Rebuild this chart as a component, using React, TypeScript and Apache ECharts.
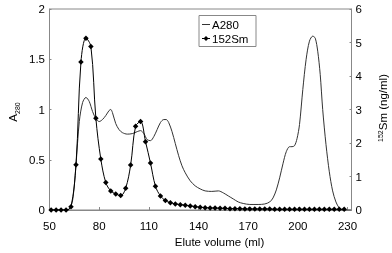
import React, { useEffect, useRef } from "react";
import * as echarts from "echarts";

// A280 trace (left axis)
const a280X = [50, 55, 60, 62, 64, 66, 68, 70, 72, 74, 76, 78, 80, 82, 84, 86, 87, 88, 90, 92, 94, 97, 100, 103, 105, 107, 109, 111, 113, 115, 117, 119, 120.5, 122, 124, 126, 128, 130, 132, 135, 138, 141, 144, 148, 152, 155, 158, 161, 164, 167, 171, 176, 180, 183, 185, 187, 189, 191, 193, 195, 196.5, 198, 199.5, 201, 203, 205, 207, 209, 210.5, 212, 213.5, 215, 217, 219, 221, 223, 225, 227, 232];
const a280Y = [0, 0, 0, 0.01, 0.1, 0.45, 0.88, 1.07, 1.12, 1.08, 0.98, 0.91, 0.88, 0.9, 0.94, 0.99, 1.0, 0.97, 0.86, 0.8, 0.77, 0.755, 0.76, 0.78, 0.79, 0.76, 0.7, 0.69, 0.73, 0.8, 0.87, 0.9, 0.9, 0.87, 0.78, 0.66, 0.54, 0.44, 0.37, 0.29, 0.24, 0.21, 0.19, 0.185, 0.19, 0.17, 0.14, 0.11, 0.08, 0.065, 0.055, 0.055, 0.06, 0.08, 0.12, 0.2, 0.32, 0.46, 0.58, 0.63, 0.63, 0.64, 0.71, 0.85, 1.2, 1.5, 1.68, 1.73, 1.71, 1.58, 1.35, 1.0, 0.65, 0.38, 0.19, 0.08, 0.02, 0, 0];

// 152Sm fractions (right axis, ng/ml)
const smX = [51, 54, 57, 60, 63, 66, 69, 72, 75, 78, 81, 84, 87, 90, 93, 96, 99, 102, 105, 108, 111, 114, 117, 120, 123, 126, 129, 132, 135, 138, 141, 144, 147, 150, 153, 156, 159, 162, 165, 168, 171, 174, 177, 180, 183, 186, 189, 192, 195, 198, 201, 204, 207, 210, 213, 216, 219, 222, 225, 228];
const smY = [0, 0, 0, 0, 0.1, 1.35, 4.42, 5.13, 4.88, 2.74, 1.52, 0.82, 0.57, 0.48, 0.43, 0.65, 1.34, 2.5, 2.64, 2.04, 1.4, 0.71, 0.42, 0.28, 0.22, 0.18, 0.16, 0.14, 0.12, 0.1, 0.08, 0.07, 0.06, 0.06, 0.05, 0.05, 0.04, 0.04, 0.04, 0.03, 0.03, 0.03, 0.03, 0.03, 0.03, 0.02, 0.02, 0.02, 0.02, 0.02, 0.02, 0.02, 0.02, 0.02, 0.02, 0.02, 0.02, 0.02, 0.02, 0.02];

const xTicks = [50, 80, 110, 140, 170, 200, 230];
const seriesNames = ["A280", "152Sm"];

const FONT = "'Liberation Sans', Arial, sans-serif";

export default function App() {
  const ref = useRef<HTMLDivElement>(null);
  useEffect(() => {
    document.body.style.margin = "0";
    const chart = echarts.init(ref.current!, null, { renderer: "svg" });
    const axisLine = { show: true, lineStyle: { color: "#888", width: 1 } };
    chart.setOption({
      animation: false,
      textStyle: { fontFamily: FONT },
      grid: {
        left: 49.5,
        top: 9,
        right: 40.5,
        bottom: 43,
        show: true,
        borderColor: "#888",
        borderWidth: 1,
        backgroundColor: "transparent",
      },
      xAxis: {
        type: "value",
        min: 50,
        max: 232.4,
        interval: 30,
        axisLine,
        axisTick: { show: true, inside: true, length: 3, lineStyle: { color: "#888" } },
        splitLine: { show: false },
        axisLabel: {
          fontSize: 11.5,
          color: "#000",
          margin: 10,
          showMaxLabel: false,
          formatter: (v: number) => (xTicks.includes(v) ? String(v) : ""),
        },
      },
      yAxis: [
        {
          type: "value",
          min: 0,
          max: 2,
          interval: 0.5,
          axisLine,
          axisTick: { show: true, inside: true, length: 2, lineStyle: { color: "#888" } },
          splitLine: { show: false },
          axisLabel: { fontSize: 11.5, color: "#000", margin: 4.5 },
        },
        {
          type: "value",
          min: 0,
          max: 6,
          interval: 1,
          position: "right",
          axisLine,
          axisTick: { show: true, inside: true, length: 2, lineStyle: { color: "#888" } },
          splitLine: { show: false },
          axisLabel: { fontSize: 11.5, color: "#000", margin: 4 },
        },
      ],
      graphic: [
        {
          type: "text",
          x: 219.5,
          y: 241.5,
          style: {
            text: "Elute volume (ml)",
            fontSize: 11.5,
            fontFamily: FONT,
            fill: "#000",
            align: "center",
            verticalAlign: "middle",
          },
        },
        {
          type: "text",
          x: 13,
          y: 112,
          rotation: Math.PI / 2,
          style: {
            text: "{a|A}{s|280}",
            align: "center",
            verticalAlign: "middle",
            fill: "#000",
            fontFamily: FONT,
            rich: {
              a: { fontSize: 11.5, fontFamily: FONT, fill: "#000", verticalAlign: "bottom" },
              s: { fontSize: 7, fontFamily: FONT, fill: "#000", verticalAlign: "bottom", padding: [0, 0, -2, 0] },
            },
          },
        },
        {
          type: "text",
          x: 383,
          y: 108,
          rotation: Math.PI / 2,
          style: {
            text: "{s|152}{a|Sm (ng/ml)}",
            align: "center",
            verticalAlign: "middle",
            fill: "#000",
            fontFamily: FONT,
            rich: {
              a: { fontSize: 11.5, fontFamily: FONT, fill: "#000", verticalAlign: "bottom" },
              s: { fontSize: 7, fontFamily: FONT, fill: "#000", verticalAlign: "top" },
            },
          },
        },
        // legend
        {
          type: "group",
          left: 198.5,
          top: 15,
          z: 100,
          children: [
            {
              type: "rect",
              shape: { x: 0, y: 0, width: 57, height: 31 },
              style: { fill: "#fff", stroke: "#888", lineWidth: 1 },
            },
            {
              type: "line",
              shape: { x1: 3, y1: 9, x2: 11, y2: 9 },
              style: { stroke: "#333", lineWidth: 1 },
            },
            {
              type: "text",
              x: 13,
              y: 9,
              style: { text: seriesNames[0], fontSize: 11.5, fontFamily: FONT, fill: "#000", verticalAlign: "middle" },
            },
            {
              type: "line",
              shape: { x1: 3, y1: 23, x2: 11, y2: 23 },
              style: { stroke: "#000", lineWidth: 1 },
            },
            {
              type: "polygon",
              shape: { points: [[7, 20.5], [9.5, 23], [7, 25.5], [4.5, 23]] },
              style: { fill: "#000" },
            },
            {
              type: "text",
              x: 13,
              y: 23,
              style: { text: seriesNames[1], fontSize: 11.5, fontFamily: FONT, fill: "#000", verticalAlign: "middle" },
            },
          ],
        },
      ],
      series: [
        {
          name: seriesNames[0],
          type: "line",
          yAxisIndex: 0,
          smooth: 0.3,
          showSymbol: false,
          symbol: "none",
          lineStyle: { color: "#333", width: 1 },
          itemStyle: { color: "#333" },
          data: a280X.map((x, i) => [x, a280Y[i]]),
          z: 2,
        },
        {
          name: seriesNames[1],
          type: "line",
          yAxisIndex: 1,
          smooth: 0.35,
          symbol: "diamond",
          symbolSize: 5.5,
          lineStyle: { color: "#000", width: 1 },
          itemStyle: { color: "#000" },
          data: smX.map((x, i) => [x, smY[i]]),
          z: 3,
        },
      ],
    });
    return () => chart.dispose();
  }, []);
  return <div ref={ref} style={{ position: "fixed", left: 0, top: 0, width: 392, height: 253 }} />;
}
